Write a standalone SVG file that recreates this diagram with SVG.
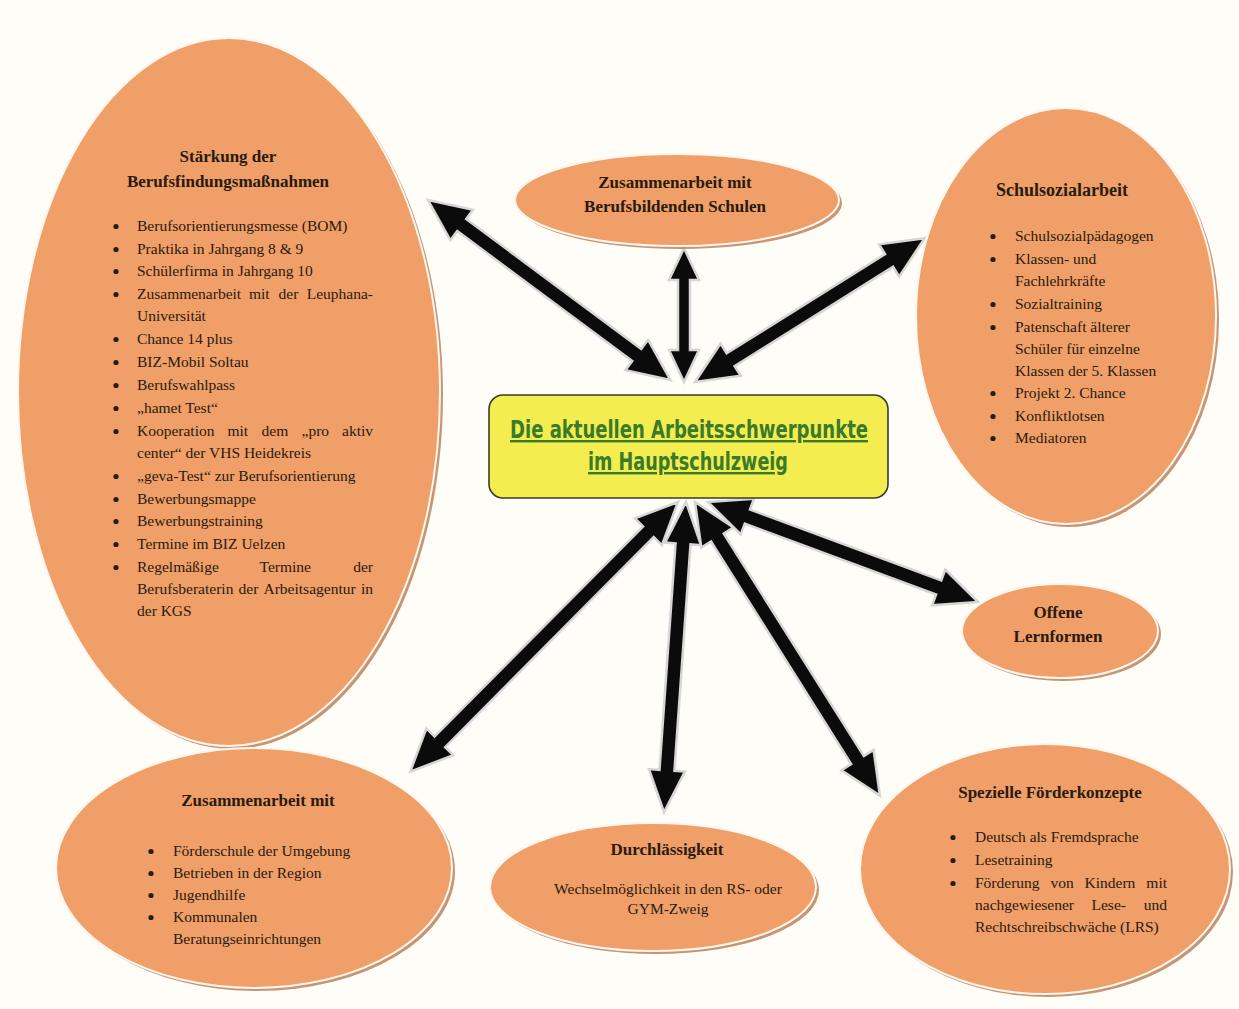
<svg xmlns="http://www.w3.org/2000/svg" width="1239" height="1009" viewBox="0 0 1239 1009">
<style>
.bg{fill:#fefdf7}
.shadow{fill:#b57248;opacity:.75}
.oval{fill:#ef9f67;stroke:#fff6ee;stroke-width:2}
.t{font-family:"Liberation Serif","Times New Roman",serif;font-size:15.5px;fill:#2a1a10}
.h{font-family:"Liberation Serif","Times New Roman",serif;font-size:17px;font-weight:bold;fill:#2a1a10}
.c{text-anchor:middle}
.e{text-anchor:end}
.dot{fill:#2a1a10}
.arrow{fill:#0b0b0b;stroke:#d6d6d6;stroke-width:2.5;stroke-linejoin:miter}
.center{fill:#f3ed4f;stroke:#3c3a28;stroke-width:1.6}
.ct{font-family:"Comic Sans MS","DejaVu Sans Condensed","DejaVu Sans",sans-serif;font-size:24px;font-weight:bold;fill:#3a7a2b;text-anchor:middle;text-decoration:underline}
</style>
<rect class="bg" x="0" y="0" width="1239" height="1009"/>

<g id="connectors">
  <polygon class="arrow" transform="translate(428,200) rotate(36.6)" points="0,0 42,-19 42,-7.5 260,-7.5 260,-19 302,0 260,19 260,7.5 42,7.5 42,19"/>
  <polygon class="arrow" transform="translate(684,248) rotate(90)" points="0,0 32,-15 32,-6 102,-6 102,-15 134,0 102,15 102,6 32,6 32,15"/>
  <polygon class="arrow" transform="translate(695,382) rotate(-32.05)" points="0,0 42,-19 42,-7.5 229,-7.5 229,-19 271,0 229,19 229,7.5 42,7.5 42,19"/>
  <polygon class="arrow" transform="translate(678,502) rotate(134.8)" points="0,0 42,-19 42,-7.5 338,-7.5 338,-19 380,0 338,19 338,7.5 42,7.5 42,19"/>
  <polygon class="arrow" transform="translate(686,502) rotate(94.06)" points="0,0 42,-18 42,-7.5 269,-7.5 269,-18 311,0 269,18 269,7.5 42,7.5 42,18"/>
  <polygon class="arrow" transform="translate(695,502) rotate(57.8)" points="0,0 42,-19 42,-7.5 305,-7.5 305,-19 347,0 305,19 305,7.5 42,7.5 42,19"/>
  <polygon class="arrow" transform="translate(708,502) rotate(20.32)" points="0,0 42,-19 42,-7.5 246,-7.5 246,-19 288,0 246,19 246,7.5 42,7.5 42,19"/>
</g>

<g id="node-center">
  <rect class="center" x="489" y="395" width="399" height="103" rx="14"/>
  <text class="ct" x="689" y="438" textLength="358" lengthAdjust="spacingAndGlyphs">Die aktuellen Arbeitsschwerpunkte</text>
  <text class="ct" x="688" y="470" textLength="200" lengthAdjust="spacingAndGlyphs">im Hauptschulzweig</text>
</g>

<g id="node-berufsfindung">
  <ellipse class="shadow" cx="232" cy="395" rx="211" ry="354"/>
  <ellipse class="oval" cx="229" cy="392" rx="211" ry="354"/>
  <text class="h c" x="228" y="162">Stärkung der</text>
  <text class="h c" x="228" y="187">Berufsfindungsmaßnahmen</text>
  <g class="dot">
    <circle cx="116" cy="226.5" r="2.6"/><circle cx="116" cy="249.5" r="2.6"/><circle cx="116" cy="271.5" r="2.6"/><circle cx="116" cy="294.5" r="2.6"/>
    <circle cx="116" cy="339.5" r="2.6"/><circle cx="116" cy="362.5" r="2.6"/><circle cx="116" cy="385.5" r="2.6"/><circle cx="116" cy="408.5" r="2.6"/>
    <circle cx="116" cy="431.5" r="2.6"/><circle cx="116" cy="476.5" r="2.6"/><circle cx="116" cy="499.5" r="2.6"/><circle cx="116" cy="521.5" r="2.6"/>
    <circle cx="116" cy="544.5" r="2.6"/><circle cx="116" cy="567.5" r="2.6"/>
  </g>
  <g class="t">
    <text x="137" y="231">Berufsorientierungsmesse (BOM)</text>
    <text x="137" y="254">Praktika in Jahrgang 8 &amp; 9</text>
    <text x="137" y="276">Schülerfirma in Jahrgang 10</text>
    <text y="299"><tspan x="137">Zusammenarbeit</tspan><tspan x="249">mit</tspan><tspan x="278.5">der</tspan></text>
    <text class="e" x="373" y="299">Leuphana-</text>
    <text x="137" y="321">Universität</text>
    <text x="137" y="344">Chance 14 plus</text>
    <text x="137" y="367">BIZ-Mobil Soltau</text>
    <text x="137" y="390">Berufswahlpass</text>
    <text x="137" y="413">„hamet Test“</text>
    <text y="436"><tspan x="137">Kooperation</tspan><tspan x="227.5">mit</tspan><tspan x="261.5">dem</tspan><tspan x="301.5">„pro</tspan></text>
    <text class="e" x="373" y="436">aktiv</text>
    <text x="137" y="458">center“ der VHS Heidekreis</text>
    <text x="137" y="481">„geva-Test“ zur Berufsorientierung</text>
    <text x="137" y="504">Bewerbungsmappe</text>
    <text x="137" y="526">Bewerbungstraining</text>
    <text x="137" y="549">Termine im BIZ Uelzen</text>
    <text y="572"><tspan x="137">Regelmäßige</tspan><tspan x="259.5">Termine</tspan></text>
    <text class="e" x="373" y="572">der</text>
    <text y="594"><tspan x="137">Berufsberaterin</tspan><tspan x="238.5">der</tspan><tspan x="263.5">Arbeitsagentur</tspan></text>
    <text class="e" x="373" y="594">in</text>
    <text x="137" y="616">der KGS</text>
  </g>
</g>

<g id="node-bbs">
  <ellipse class="shadow" cx="680" cy="203" rx="162" ry="46"/>
  <ellipse class="oval" cx="677" cy="200" rx="162" ry="46"/>
  <text class="h c" x="675" y="188">Zusammenarbeit mit</text>
  <text class="h c" x="675" y="212">Berufsbildenden Schulen</text>
</g>

<g id="node-schulsozialarbeit">
  <ellipse class="shadow" cx="1069" cy="319" rx="150" ry="208"/>
  <ellipse class="oval" cx="1066" cy="316" rx="150" ry="208"/>
  <text class="h c" x="1062" y="196" style="font-size:18px">Schulsozialarbeit</text>
  <g class="dot">
    <circle cx="993" cy="236.5" r="2.6"/><circle cx="993" cy="259.5" r="2.6"/><circle cx="993" cy="304.5" r="2.6"/><circle cx="993" cy="327.5" r="2.6"/>
    <circle cx="993" cy="393.5" r="2.6"/><circle cx="993" cy="416.5" r="2.6"/><circle cx="993" cy="438.5" r="2.6"/>
  </g>
  <g class="t">
    <text x="1015" y="241">Schulsozialpädagogen</text>
    <text x="1015" y="264">Klassen- und</text>
    <text x="1015" y="286">Fachlehrkräfte</text>
    <text x="1015" y="309">Sozialtraining</text>
    <text x="1015" y="332">Patenschaft älterer</text>
    <text x="1015" y="354">Schüler für einzelne</text>
    <text x="1015" y="376">Klassen der 5. Klassen</text>
    <text x="1015" y="398">Projekt 2. Chance</text>
    <text x="1015" y="421">Konfliktlotsen</text>
    <text x="1015" y="443">Mediatoren</text>
  </g>
</g>

<g id="node-offene">
  <ellipse class="shadow" cx="1063" cy="634" rx="98" ry="47"/>
  <ellipse class="oval" cx="1060" cy="631" rx="98" ry="47"/>
  <text class="h c" x="1058" y="618">Offene</text>
  <text class="h c" x="1058" y="642">Lernformen</text>
</g>

<g id="node-zusammenarbeit">
  <ellipse class="shadow" cx="257" cy="871" rx="198" ry="120"/>
  <ellipse class="oval" cx="254" cy="868" rx="198" ry="120"/>
  <text class="h c" x="258" y="806">Zusammenarbeit mit</text>
  <g class="dot">
    <circle cx="151" cy="851.5" r="2.6"/><circle cx="151" cy="873.5" r="2.6"/><circle cx="151" cy="895.5" r="2.6"/><circle cx="151" cy="917.5" r="2.6"/>
  </g>
  <g class="t">
    <text x="173" y="856">Förderschule der Umgebung</text>
    <text x="173" y="878">Betrieben in der Region</text>
    <text x="173" y="900">Jugendhilfe</text>
    <text x="173" y="922">Kommunalen</text>
    <text x="173" y="944">Beratungseinrichtungen</text>
  </g>
</g>

<g id="node-durchlaessigkeit">
  <ellipse class="shadow" cx="656" cy="890" rx="163" ry="64"/>
  <ellipse class="oval" cx="653" cy="887" rx="163" ry="64"/>
  <text class="h c" x="667" y="855">Durchlässigkeit</text>
  <text class="t c" x="668" y="894">Wechselmöglichkeit in den RS- oder</text>
  <text class="t c" x="668" y="914">GYM-Zweig</text>
</g>

<g id="node-foerderkonzepte">
  <ellipse class="shadow" cx="1048" cy="872" rx="185" ry="125"/>
  <ellipse class="oval" cx="1045" cy="869" rx="185" ry="125"/>
  <text class="h c" x="1050" y="798">Spezielle Förderkonzepte</text>
  <g class="dot">
    <circle cx="953" cy="837.5" r="2.6"/><circle cx="953" cy="860.5" r="2.6"/><circle cx="953" cy="883.5" r="2.6"/>
  </g>
  <g class="t">
    <text x="975" y="842">Deutsch als Fremdsprache</text>
    <text x="975" y="865">Lesetraining</text>
    <text y="888"><tspan x="975">Förderung</tspan><tspan x="1050.5">von</tspan><tspan x="1084.5">Kindern</tspan></text>
    <text class="e" x="1167" y="888">mit</text>
    <text y="910"><tspan x="975">nachgewiesener</tspan><tspan x="1091.5">Lese-</tspan></text>
    <text class="e" x="1167" y="910">und</text>
    <text x="975" y="932">Rechtschreibschwäche (LRS)</text>
  </g>
</g>
</svg>
